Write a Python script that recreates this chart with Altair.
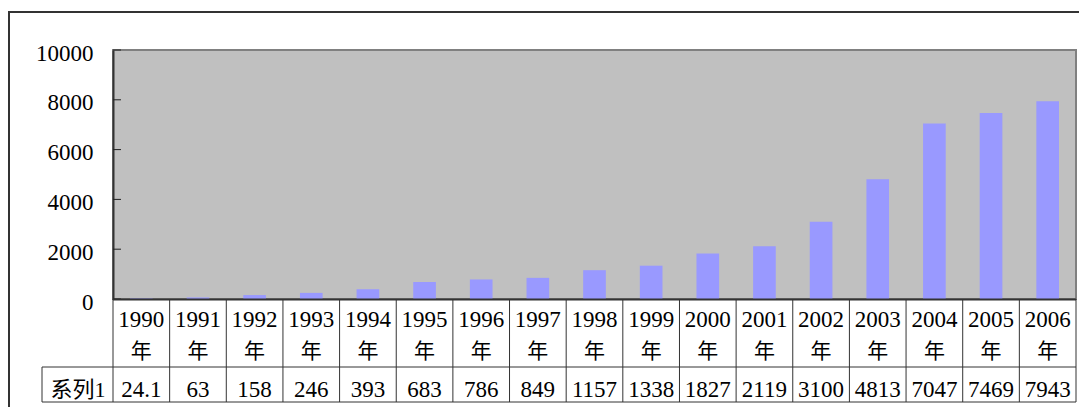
import altair as alt
import pandas as pd

years = [1990, 1991, 1992, 1993, 1994, 1995, 1996, 1997, 1998, 1999,
         2000, 2001, 2002, 2003, 2004, 2005, 2006]
values = [24.1, 63, 158, 246, 393, 683, 786, 849, 1157, 1338,
          1827, 2119, 3100, 4813, 7047, 7469, 7943]
y_ticks = [0, 2000, 4000, 6000, 8000, 10000]
series_name = "系列1"
year_suffix = "年"

FONT = "'Liberation Serif', 'Times New Roman', 'Noto Sans CJK SC', serif"
W, H = 963, 249
n = len(years)

df = pd.DataFrame({
    "i": list(range(n)),
    "year": [str(y) for y in years],
    "suffix": [year_suffix] * n,
    "value": values,
    "label": [f"{v:g}" for v in values],
})
df["x0"] = df["i"] + 0.3
df["x1"] = df["i"] + 0.7
df["xc"] = df["i"] + 0.5

xs = alt.Scale(domain=[0, n], nice=False, zero=False)
ys = alt.Scale(domain=[0, 10000], nice=False)

base = alt.Chart(df)

bars = base.mark_bar(color="#9999FF").encode(
    x=alt.X("x0:Q", scale=xs, axis=None),
    x2="x1:Q",
    y=alt.Y("value:Q", scale=ys,
            axis=alt.Axis(values=y_ticks, format="d", grid=False, tickSize=0, labelPadding=20,
                          labelFont=FONT, labelFontSize=23, labelColor="black",
                          labelOffset=3, domainColor="#333333", domainWidth=2,
                          title=None, labelFlush=False)),
    y2=alt.datum(0),
)

ticks_df = pd.DataFrame({"t": y_ticks})
ticks = alt.Chart(ticks_df).mark_rule(color="#222222", strokeWidth=1).encode(
    y=alt.Y("t:Q", scale=ys),
    x=alt.value(0), x2=alt.value(8),
)

year_text = base.mark_text(font=FONT, fontSize=23, color="black", baseline="alphabetic").encode(
    x=alt.X("xc:Q", scale=xs), y=alt.value(277), text="year:N")
suffix_text = base.mark_text(font=FONT, fontSize=21, color="black", baseline="alphabetic").encode(
    x=alt.X("xc:Q", scale=xs), y=alt.value(308), text="suffix:N")
val_text = base.mark_text(font=FONT, fontSize=23, color="black", baseline="alphabetic").encode(
    x=alt.X("xc:Q", scale=xs), y=alt.value(347), text="label:N")

series_df = pd.DataFrame({"s": [series_name]})
series_text = alt.Chart(series_df).mark_text(font=FONT, fontSize=22, color="black",
                                              baseline="alphabetic").encode(
    x=alt.value(-35), y=alt.value(347), text="s:N")

bounds_df = pd.DataFrame({"b": list(range(n + 1))})
vlines = alt.Chart(bounds_df).mark_rule(color="#333333", strokeWidth=1).encode(
    x=alt.X("b:Q", scale=xs), y=alt.value(249), y2=alt.value(352))

hl_df = pd.DataFrame({"yy": [317, 352], "xa": [-71, -71]})
hlines = alt.Chart(hl_df).mark_rule(color="#333333", strokeWidth=1).encode(
    y=alt.Y("yy:Q", scale=None), x=alt.X("xa:Q", scale=None), x2=alt.value(W))
series_left = alt.Chart(series_df).mark_rule(color="#333333", strokeWidth=1).encode(
    x=alt.value(-71), y=alt.value(317), y2=alt.value(352))
table_top = alt.Chart(series_df).mark_rule(color="#333333", strokeWidth=2).encode(
    x=alt.value(0), x2=alt.value(W), y=alt.value(249.5))

frame_top = alt.Chart(series_df).mark_rule(color="#333333", strokeWidth=2).encode(
    x=alt.value(-105), x2=alt.value(1000), y=alt.value(-38))
frame_left = alt.Chart(series_df).mark_rule(color="#333333", strokeWidth=2).encode(
    x=alt.value(-104), y=alt.value(-39), y2=alt.value(400))

chart = alt.layer(
    bars, ticks, vlines, hlines, series_left, table_top,
    year_text, suffix_text, val_text, series_text, frame_top, frame_left,
).properties(
    width=W, height=H,
    padding={"left": 105, "top": 42, "right": 3, "bottom": 108},
    autosize=alt.AutoSizeParams(type="none"),
    background="white",
).configure_view(
    fill="#C0C0C0", stroke="#808080", strokeWidth=2,
)

chart.save("out.html", embed_options={"renderer": "svg", "actions": False})
